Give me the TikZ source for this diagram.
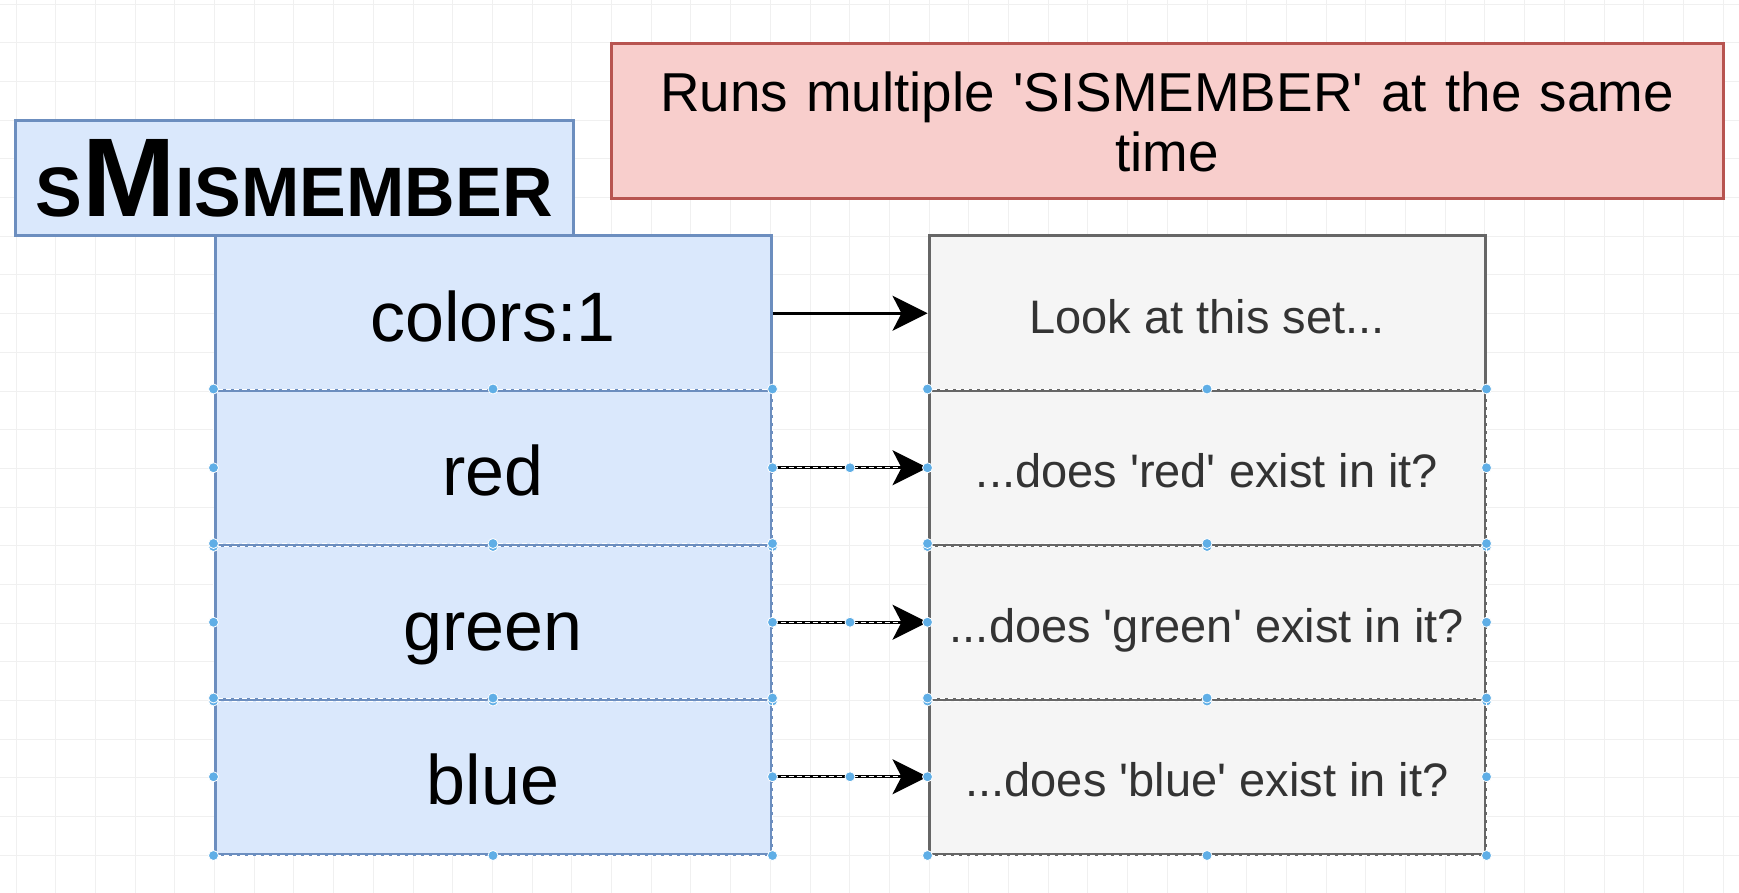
\documentclass[tikz,border=0pt]{standalone}
\usepackage{fontspec}
\setmainfont{Liberation Sans}
\usepackage{xcolor}
\usepackage{tikz}
\usetikzlibrary{arrows.meta,positioning,calc}

\definecolor{keyfill}{HTML}{DAE8FC}
\definecolor{keyline}{HTML}{6C8EBF}
\definecolor{notefill}{HTML}{F8CECC}
\definecolor{noteline}{HTML}{B85450}
\definecolor{factfill}{HTML}{F5F5F5}
\definecolor{factline}{HTML}{666666}
\definecolor{handle}{HTML}{5FAEE6}
\definecolor{gridline}{HTML}{F0F0F0}

\newcommand{\tridot}{...}
\newcommand{\sq}{\textquotesingle}

\tikzset{
	cell/.style={draw,line width=1.5pt,minimum width=278pt,minimum height=77.25pt,inner sep=0pt},
	keycell/.style={cell,fill=keyfill,draw=keyline,font=\fontsize{35}{35}\selectfont,text height=28pt,text depth=0pt},
	factcell/.style={cell,fill=factfill,draw=factline,text=black!80,font=\fontsize{23.5}{23.5}\selectfont,text height=20pt,text depth=0pt},
	titlebox/.style={draw=keyline,fill=keyfill,line width=1.5pt,minimum width=279pt,minimum height=57.5pt,inner sep=0pt,font=\bfseries},
	notebox/.style={draw=noteline,fill=notefill,line width=1.5pt,minimum width=556pt,minimum height=77.5pt,inner sep=0pt,text width=540pt,align=center,font=\fontsize{27.4}{30}\selectfont},
	link/.style={-{Stealth[length=17.5pt,width=17.5pt,inset=4.5pt]},line width=1.5pt},
	selmark/.style={white,line width=0.5pt,dash pattern=on 2.5pt off 1.5pt},
	handledot/.style={fill=handle,draw=white,line width=0.4pt}
}

\begin{document}
\begin{tikzpicture}[x=0.5pt,y=-0.5pt]
	\useasboundingbox (0,0) rectangle (1739,893);
	\fill[white] (0,0) rectangle (1739,893);
	% background grid
	\foreach \gx in {0,...,43}{
		\draw[gridline,line width=0.5pt] ({16+39.7*\gx},0) -- ({16+39.7*\gx},893);
	}
	\foreach \gy in {0,...,23}{
		\draw[gridline,line width=0.5pt] (0,{4.3+38.67*\gy}) -- (1739,{4.3+38.67*\gy});
	}
	
	% title and note
	\node[titlebox] (title) at (294,178.5) {{\fontsize{35}{35}\selectfont S}{\fontsize{56}{56}\selectfont M}{\fontsize{35}{35}\selectfont ISMEMBER}};
	\node[notebox] (note) at (1167,121.5) {Runs multiple \sq SISMEMBER\sq{} at the same\\time};
	
	% key and members
	\foreach \txt [count=\i from 0] in {colors:1,red,green,blue}{
		\node[keycell] (k\i) at (493,{313.25+154.5*\i}) {\txt};
	}
	
	% what each one asks
	\foreach \txt [count=\i from 0] in {Look at this set\tridot,\tridot does \sq red\sq{} exist in it?,\tridot does \sq green\sq{} exist in it?,\tridot does \sq blue\sq{} exist in it?}{
		\node[factcell] (f\i) at (1207,{313.25+154.5*\i}) {\txt};
	}
	
	% links
	\foreach \i in {0,...,3}{
		\draw[link] (k\i.east) -- (f\i.west);
	}
	
	% selection marks
	\foreach \i in {1,2,3}{
		\draw[selmark] (k\i.north west) rectangle (k\i.south east);
		\draw[selmark] (f\i.north west) rectangle (f\i.south east);
		\draw[selmark] (k\i.east) -- ($(f\i.west)+(-30,0)$);
		\foreach \a in {north west,north,north east,west,east,south west,south,south east}{
			\filldraw[handledot] (k\i.\a) circle (2.5pt);
			\filldraw[handledot] (f\i.\a) circle (2.5pt);
		}
		\filldraw[handledot] ($(k\i.east)!0.5!(f\i.west)$) circle (2.5pt);
	}
\end{tikzpicture}
\end{document}
